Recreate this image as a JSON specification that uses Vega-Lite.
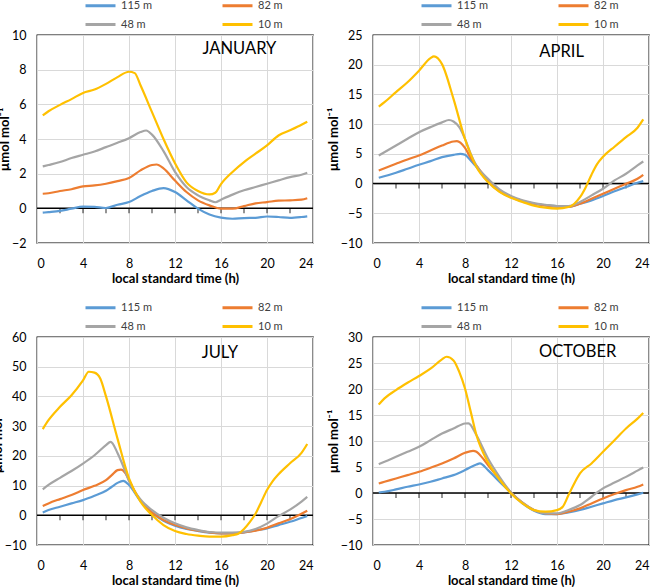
{
"$schema": "https://vega.github.io/schema/vega-lite/v6.json",
"padding": {"left": -10, "top": -2, "right": 0, "bottom": 0},
"background": "white",
"config": {
 "font": "Lato",
 "view": {"stroke": "black", "strokeWidth": 1.3},
 "axis": {"labelFont": "Lato", "labelFontSize": 12.5, "labelColor": "#000", "titleColor": "#000", "titleFont": "Lato", "titleFontSize": 13, "titleFontWeight": "bold", "ticks": false, "domain": false, "gridColor": "#d9d9d9", "gridWidth": 1},
 "axisX": {"labelPadding": 14, "titlePadding": 3},
 "axisY": {"labelPadding": 11, "titlePadding": 0},
 "legend": {"symbolType": "M-3,0H3", "symbolStrokeWidth": 3, "symbolSize": 100, "labelFontSize": 11, "labelFont": "Lato", "labelColor": "#404040", "labelOffset": 14, "columnPadding": 63, "rowPadding": 6}
},
"datasets": {
 "jan": [
  {"s":"115 m","h":0.5,"v":-0.25},{"s":"115 m","h":1,"v":-0.22},{"s":"115 m","h":2,"v":-0.15},{"s":"115 m","h":3,"v":-0.02},{"s":"115 m","h":4,"v":0.1},{"s":"115 m","h":5,"v":0.08},{"s":"115 m","h":6,"v":0.02},{"s":"115 m","h":7,"v":0.21},{"s":"115 m","h":8,"v":0.36},{"s":"115 m","h":9,"v":0.71},{"s":"115 m","h":10,"v":1.0},{"s":"115 m","h":11,"v":1.17},{"s":"115 m","h":12,"v":0.94},{"s":"115 m","h":13,"v":0.46},{"s":"115 m","h":14,"v":-0.02},{"s":"115 m","h":15,"v":-0.36},{"s":"115 m","h":16,"v":-0.54},{"s":"115 m","h":17,"v":-0.6},{"s":"115 m","h":18,"v":-0.56},{"s":"115 m","h":19,"v":-0.55},{"s":"115 m","h":20,"v":-0.47},{"s":"115 m","h":21,"v":-0.5},{"s":"115 m","h":22,"v":-0.55},{"s":"115 m","h":23,"v":-0.5},{"s":"115 m","h":23.5,"v":-0.46},
  {"s":"82 m","h":0.5,"v":0.84},{"s":"82 m","h":1,"v":0.87},{"s":"82 m","h":2,"v":1.0},{"s":"82 m","h":3,"v":1.1},{"s":"82 m","h":4,"v":1.27},{"s":"82 m","h":5,"v":1.32},{"s":"82 m","h":6,"v":1.42},{"s":"82 m","h":7,"v":1.57},{"s":"82 m","h":8,"v":1.75},{"s":"82 m","h":9,"v":2.19},{"s":"82 m","h":10,"v":2.5},{"s":"82 m","h":10.4,"v":2.53},{"s":"82 m","h":11,"v":2.3},{"s":"82 m","h":12,"v":1.6},{"s":"82 m","h":13,"v":0.94},{"s":"82 m","h":14,"v":0.46},{"s":"82 m","h":15,"v":0.17},{"s":"82 m","h":16,"v":-0.02},{"s":"82 m","h":17,"v":-0.02},{"s":"82 m","h":18,"v":0.13},{"s":"82 m","h":19,"v":0.29},{"s":"82 m","h":20,"v":0.36},{"s":"82 m","h":21,"v":0.44},{"s":"82 m","h":22,"v":0.46},{"s":"82 m","h":23,"v":0.5},{"s":"82 m","h":23.5,"v":0.58},
  {"s":"48 m","h":0.5,"v":2.42},{"s":"48 m","h":1,"v":2.5},{"s":"48 m","h":2,"v":2.67},{"s":"48 m","h":3,"v":2.9},{"s":"48 m","h":4,"v":3.09},{"s":"48 m","h":5,"v":3.28},{"s":"48 m","h":6,"v":3.53},{"s":"48 m","h":7,"v":3.78},{"s":"48 m","h":8,"v":4.05},{"s":"48 m","h":9,"v":4.4},{"s":"48 m","h":9.5,"v":4.49},{"s":"48 m","h":10,"v":4.25},{"s":"48 m","h":11,"v":3.3},{"s":"48 m","h":12,"v":2.1},{"s":"48 m","h":13,"v":1.23},{"s":"48 m","h":14,"v":0.75},{"s":"48 m","h":15,"v":0.46},{"s":"48 m","h":15.5,"v":0.35},{"s":"48 m","h":16,"v":0.5},{"s":"48 m","h":17,"v":0.79},{"s":"48 m","h":18,"v":1.04},{"s":"48 m","h":19,"v":1.23},{"s":"48 m","h":20,"v":1.42},{"s":"48 m","h":21,"v":1.61},{"s":"48 m","h":22,"v":1.8},{"s":"48 m","h":23,"v":1.94},{"s":"48 m","h":23.5,"v":2.05},
  {"s":"10 m","h":0.5,"v":5.36},{"s":"10 m","h":1,"v":5.6},{"s":"10 m","h":2,"v":5.97},{"s":"10 m","h":3,"v":6.3},{"s":"10 m","h":4,"v":6.66},{"s":"10 m","h":5,"v":6.85},{"s":"10 m","h":6,"v":7.18},{"s":"10 m","h":7,"v":7.57},{"s":"10 m","h":8,"v":7.88},{"s":"10 m","h":8.5,"v":7.8},{"s":"10 m","h":9,"v":7.1},{"s":"10 m","h":10,"v":5.55},{"s":"10 m","h":11,"v":4.0},{"s":"10 m","h":12,"v":2.6},{"s":"10 m","h":13,"v":1.5},{"s":"10 m","h":14,"v":1.0},{"s":"10 m","h":15,"v":0.8},{"s":"10 m","h":15.5,"v":0.9},{"s":"10 m","h":16,"v":1.4},{"s":"10 m","h":17,"v":2.1},{"s":"10 m","h":18,"v":2.67},{"s":"10 m","h":19,"v":3.15},{"s":"10 m","h":20,"v":3.63},{"s":"10 m","h":21,"v":4.2},{"s":"10 m","h":22,"v":4.5},{"s":"10 m","h":23,"v":4.82},{"s":"10 m","h":23.5,"v":5.0}
 ],
 "apr": [
  {"s":"115 m","h":0.5,"v":0.98},{"s":"115 m","h":2,"v":1.82},{"s":"115 m","h":3,"v":2.49},{"s":"115 m","h":4,"v":3.16},{"s":"115 m","h":5,"v":3.78},{"s":"115 m","h":6,"v":4.45},{"s":"115 m","h":7,"v":4.84},{"s":"115 m","h":7.6,"v":5.0},{"s":"115 m","h":8,"v":4.84},{"s":"115 m","h":8.5,"v":3.9},{"s":"115 m","h":9,"v":2.77},{"s":"115 m","h":10,"v":0.36},{"s":"115 m","h":11,"v":-1.3},{"s":"115 m","h":12,"v":-2.3},{"s":"115 m","h":13,"v":-3.0},{"s":"115 m","h":14,"v":-3.4},{"s":"115 m","h":15,"v":-3.67},{"s":"115 m","h":16,"v":-3.78},{"s":"115 m","h":17,"v":-3.9},{"s":"115 m","h":18,"v":-3.39},{"s":"115 m","h":19,"v":-2.83},{"s":"115 m","h":20,"v":-2.1},{"s":"115 m","h":21,"v":-1.3},{"s":"115 m","h":22,"v":-0.59},{"s":"115 m","h":23,"v":0.14},{"s":"115 m","h":23.5,"v":0.42},
  {"s":"82 m","h":0.5,"v":2.21},{"s":"82 m","h":2,"v":3.33},{"s":"82 m","h":3,"v":4.06},{"s":"82 m","h":4,"v":4.73},{"s":"82 m","h":5,"v":5.57},{"s":"82 m","h":6,"v":6.41},{"s":"82 m","h":7,"v":7.08},{"s":"82 m","h":7.3,"v":7.14},{"s":"82 m","h":8,"v":6.0},{"s":"82 m","h":8.5,"v":4.3},{"s":"82 m","h":9,"v":3.0},{"s":"82 m","h":10,"v":0.53},{"s":"82 m","h":11,"v":-1.15},{"s":"82 m","h":12,"v":-2.2},{"s":"82 m","h":13,"v":-2.9},{"s":"82 m","h":14,"v":-3.4},{"s":"82 m","h":15,"v":-3.67},{"s":"82 m","h":16,"v":-3.9},{"s":"82 m","h":17,"v":-3.9},{"s":"82 m","h":18,"v":-3.39},{"s":"82 m","h":19,"v":-2.55},{"s":"82 m","h":20,"v":-1.7},{"s":"82 m","h":21,"v":-0.87},{"s":"82 m","h":22,"v":-0.03},{"s":"82 m","h":23,"v":0.81},{"s":"82 m","h":23.5,"v":1.48},
  {"s":"48 m","h":0.5,"v":4.73},{"s":"48 m","h":2,"v":6.41},{"s":"48 m","h":3,"v":7.53},{"s":"48 m","h":4,"v":8.65},{"s":"48 m","h":5,"v":9.5},{"s":"48 m","h":6,"v":10.3},{"s":"48 m","h":6.6,"v":10.7},{"s":"48 m","h":7,"v":10.45},{"s":"48 m","h":7.5,"v":9.5},{"s":"48 m","h":8,"v":7.53},{"s":"48 m","h":8.5,"v":5.0},{"s":"48 m","h":9,"v":3.0},{"s":"48 m","h":10,"v":0.8},{"s":"48 m","h":11,"v":-0.98},{"s":"48 m","h":12,"v":-2.1},{"s":"48 m","h":13,"v":-2.83},{"s":"48 m","h":14,"v":-3.28},{"s":"48 m","h":15,"v":-3.56},{"s":"48 m","h":16,"v":-3.78},{"s":"48 m","h":17,"v":-3.78},{"s":"48 m","h":18,"v":-3.1},{"s":"48 m","h":19,"v":-1.99},{"s":"48 m","h":20,"v":-0.87},{"s":"48 m","h":21,"v":0.53},{"s":"48 m","h":22,"v":1.65},{"s":"48 m","h":23,"v":3.05},{"s":"48 m","h":23.5,"v":3.72},
  {"s":"10 m","h":0.5,"v":12.96},{"s":"10 m","h":1,"v":13.7},{"s":"10 m","h":2,"v":15.4},{"s":"10 m","h":3,"v":17.05},{"s":"10 m","h":4,"v":19.0},{"s":"10 m","h":5,"v":21.1},{"s":"10 m","h":5.3,"v":21.4},{"s":"10 m","h":6,"v":20.1},{"s":"10 m","h":7,"v":14.25},{"s":"10 m","h":8,"v":7.5},{"s":"10 m","h":9,"v":2.8},{"s":"10 m","h":10,"v":0.25},{"s":"10 m","h":11,"v":-1.4},{"s":"10 m","h":12,"v":-2.4},{"s":"10 m","h":13,"v":-3.1},{"s":"10 m","h":14,"v":-3.7},{"s":"10 m","h":15,"v":-4.06},{"s":"10 m","h":16,"v":-4.2},{"s":"10 m","h":17,"v":-3.95},{"s":"10 m","h":17.5,"v":-3.4},{"s":"10 m","h":18,"v":-2.3},{"s":"10 m","h":18.5,"v":-0.6},{"s":"10 m","h":19,"v":1.5},{"s":"10 m","h":19.5,"v":3.3},{"s":"10 m","h":20,"v":4.5},{"s":"10 m","h":21,"v":6.2},{"s":"10 m","h":22,"v":7.8},{"s":"10 m","h":23,"v":9.4},{"s":"10 m","h":23.5,"v":10.8}
 ],
 "jul": [
  {"s":"115 m","h":0.5,"v":0.97},{"s":"115 m","h":1,"v":1.76},{"s":"115 m","h":2,"v":2.88},{"s":"115 m","h":3,"v":4.0},{"s":"115 m","h":4,"v":5.1},{"s":"115 m","h":5,"v":6.57},{"s":"115 m","h":6,"v":8.25},{"s":"115 m","h":6.5,"v":9.6},{"s":"115 m","h":7,"v":10.9},{"s":"115 m","h":7.5,"v":11.6},{"s":"115 m","h":8,"v":10.2},{"s":"115 m","h":9,"v":4.8},{"s":"115 m","h":10,"v":0.86},{"s":"115 m","h":11,"v":-1.83},{"s":"115 m","h":12,"v":-3.5},{"s":"115 m","h":13,"v":-4.6},{"s":"115 m","h":14,"v":-5.3},{"s":"115 m","h":15,"v":-5.85},{"s":"115 m","h":16,"v":-6.08},{"s":"115 m","h":17,"v":-6.08},{"s":"115 m","h":18,"v":-5.74},{"s":"115 m","h":19,"v":-5.07},{"s":"115 m","h":20,"v":-4.4},{"s":"115 m","h":21,"v":-3.3},{"s":"115 m","h":22,"v":-2.2},{"s":"115 m","h":23,"v":-0.9},{"s":"115 m","h":23.5,"v":-0.26},
  {"s":"82 m","h":0.5,"v":3.1},{"s":"82 m","h":1,"v":4.0},{"s":"82 m","h":2,"v":5.45},{"s":"82 m","h":3,"v":6.8},{"s":"82 m","h":4,"v":8.5},{"s":"82 m","h":5,"v":9.93},{"s":"82 m","h":6,"v":11.8},{"s":"82 m","h":6.5,"v":13.5},{"s":"82 m","h":7,"v":15.2},{"s":"82 m","h":7.3,"v":15.4},{"s":"82 m","h":7.7,"v":14.1},{"s":"82 m","h":8,"v":11.8},{"s":"82 m","h":9,"v":4.9},{"s":"82 m","h":10,"v":0.97},{"s":"82 m","h":11,"v":-1.6},{"s":"82 m","h":12,"v":-3.28},{"s":"82 m","h":13,"v":-4.4},{"s":"82 m","h":14,"v":-5.2},{"s":"82 m","h":15,"v":-5.74},{"s":"82 m","h":16,"v":-6.08},{"s":"82 m","h":17,"v":-6.08},{"s":"82 m","h":18,"v":-5.74},{"s":"82 m","h":19,"v":-5.2},{"s":"82 m","h":20,"v":-4.2},{"s":"82 m","h":21,"v":-2.7},{"s":"82 m","h":22,"v":-1.3},{"s":"82 m","h":23,"v":0.5},{"s":"82 m","h":23.5,"v":1.53},
  {"s":"48 m","h":0.5,"v":8.7},{"s":"48 m","h":1,"v":10.2},{"s":"48 m","h":2,"v":12.6},{"s":"48 m","h":3,"v":14.9},{"s":"48 m","h":4,"v":17.4},{"s":"48 m","h":5,"v":20.2},{"s":"48 m","h":6,"v":23.6},{"s":"48 m","h":6.4,"v":24.7},{"s":"48 m","h":7,"v":21.0},{"s":"48 m","h":7.5,"v":16.5},{"s":"48 m","h":8,"v":11.5},{"s":"48 m","h":9,"v":5.3},{"s":"48 m","h":10,"v":1.76},{"s":"48 m","h":11,"v":-0.82},{"s":"48 m","h":12,"v":-2.7},{"s":"48 m","h":13,"v":-4.07},{"s":"48 m","h":14,"v":-4.96},{"s":"48 m","h":15,"v":-5.63},{"s":"48 m","h":16,"v":-5.85},{"s":"48 m","h":17,"v":-5.85},{"s":"48 m","h":18,"v":-5.6},{"s":"48 m","h":19,"v":-4.6},{"s":"48 m","h":20,"v":-2.8},{"s":"48 m","h":21,"v":-0.3},{"s":"48 m","h":22,"v":1.9},{"s":"48 m","h":23,"v":4.6},{"s":"48 m","h":23.5,"v":6.2},
  {"s":"10 m","h":0.5,"v":29.0},{"s":"10 m","h":1,"v":32.0},{"s":"10 m","h":2,"v":36.5},{"s":"10 m","h":3,"v":40.4},{"s":"10 m","h":4,"v":45.4},{"s":"10 m","h":4.5,"v":48.3},{"s":"10 m","h":5,"v":48.0},{"s":"10 m","h":5.5,"v":46.0},{"s":"10 m","h":6,"v":40.0},{"s":"10 m","h":7,"v":25.8},{"s":"10 m","h":8,"v":12.4},{"s":"10 m","h":9,"v":4.56},{"s":"10 m","h":10,"v":0.08},{"s":"10 m","h":11,"v":-3.28},{"s":"10 m","h":12,"v":-5.3},{"s":"10 m","h":13,"v":-6.3},{"s":"10 m","h":14,"v":-6.86},{"s":"10 m","h":15,"v":-7.2},{"s":"10 m","h":16,"v":-7.2},{"s":"10 m","h":17,"v":-6.7},{"s":"10 m","h":17.5,"v":-6.2},{"s":"10 m","h":18,"v":-4.6},{"s":"10 m","h":18.5,"v":-2.3},{"s":"10 m","h":19,"v":0.5},{"s":"10 m","h":19.5,"v":4.5},{"s":"10 m","h":20,"v":8.5},{"s":"10 m","h":20.5,"v":11.5},{"s":"10 m","h":21,"v":13.8},{"s":"10 m","h":22,"v":17.5},{"s":"10 m","h":23,"v":21.0},{"s":"10 m","h":23.5,"v":24.0}
 ],
 "oct": [
  {"s":"115 m","h":0.5,"v":0.1},{"s":"115 m","h":1,"v":0.24},{"s":"115 m","h":2,"v":0.69},{"s":"115 m","h":3,"v":1.2},{"s":"115 m","h":4,"v":1.64},{"s":"115 m","h":5,"v":2.16},{"s":"115 m","h":6,"v":2.8},{"s":"115 m","h":7,"v":3.44},{"s":"115 m","h":8,"v":4.4},{"s":"115 m","h":9,"v":5.49},{"s":"115 m","h":9.3,"v":5.68},{"s":"115 m","h":10,"v":4.4},{"s":"115 m","h":11,"v":2.16},{"s":"115 m","h":12,"v":0.05},{"s":"115 m","h":13,"v":-2.0},{"s":"115 m","h":14,"v":-3.4},{"s":"115 m","h":15,"v":-4.05},{"s":"115 m","h":16,"v":-4.05},{"s":"115 m","h":17,"v":-3.73},{"s":"115 m","h":18,"v":-3.28},{"s":"115 m","h":19,"v":-2.64},{"s":"115 m","h":20,"v":-2.0},{"s":"115 m","h":21,"v":-1.36},{"s":"115 m","h":22,"v":-0.85},{"s":"115 m","h":23,"v":-0.27},{"s":"115 m","h":23.5,"v":0.05},
  {"s":"82 m","h":0.5,"v":1.84},{"s":"82 m","h":1,"v":2.16},{"s":"82 m","h":2,"v":2.8},{"s":"82 m","h":3,"v":3.44},{"s":"82 m","h":4,"v":4.08},{"s":"82 m","h":5,"v":4.85},{"s":"82 m","h":6,"v":5.68},{"s":"82 m","h":7,"v":6.64},{"s":"82 m","h":8,"v":7.73},{"s":"82 m","h":8.7,"v":8.1},{"s":"82 m","h":9,"v":7.92},{"s":"82 m","h":9.5,"v":6.8},{"s":"82 m","h":10,"v":5.36},{"s":"82 m","h":11,"v":2.67},{"s":"82 m","h":12,"v":0.1},{"s":"82 m","h":13,"v":-1.87},{"s":"82 m","h":14,"v":-3.28},{"s":"82 m","h":15,"v":-3.92},{"s":"82 m","h":16,"v":-4.05},{"s":"82 m","h":17,"v":-3.6},{"s":"82 m","h":18,"v":-2.96},{"s":"82 m","h":19,"v":-2.0},{"s":"82 m","h":20,"v":-1.04},{"s":"82 m","h":21,"v":-0.2},{"s":"82 m","h":22,"v":0.56},{"s":"82 m","h":23,"v":1.2},{"s":"82 m","h":23.5,"v":1.65},
  {"s":"48 m","h":0.5,"v":5.55},{"s":"48 m","h":1,"v":6.0},{"s":"48 m","h":2,"v":6.96},{"s":"48 m","h":3,"v":7.92},{"s":"48 m","h":4,"v":8.88},{"s":"48 m","h":5,"v":10.16},{"s":"48 m","h":6,"v":11.44},{"s":"48 m","h":7,"v":12.4},{"s":"48 m","h":8,"v":13.36},{"s":"48 m","h":8.3,"v":13.4},{"s":"48 m","h":9,"v":11.1},{"s":"48 m","h":10,"v":6.64},{"s":"48 m","h":11,"v":3.12},{"s":"48 m","h":12,"v":0.1},{"s":"48 m","h":13,"v":-1.87},{"s":"48 m","h":14,"v":-3.28},{"s":"48 m","h":15,"v":-3.92},{"s":"48 m","h":16,"v":-3.92},{"s":"48 m","h":17,"v":-3.28},{"s":"48 m","h":18,"v":-2.32},{"s":"48 m","h":19,"v":-0.72},{"s":"48 m","h":20,"v":0.9},{"s":"48 m","h":21,"v":2.0},{"s":"48 m","h":22,"v":3.1},{"s":"48 m","h":23,"v":4.3},{"s":"48 m","h":23.5,"v":4.9},
  {"s":"10 m","h":0.5,"v":17.0},{"s":"10 m","h":1,"v":18.2},{"s":"10 m","h":2,"v":19.8},{"s":"10 m","h":3,"v":21.2},{"s":"10 m","h":4,"v":22.5},{"s":"10 m","h":5,"v":23.9},{"s":"10 m","h":6,"v":25.7},{"s":"10 m","h":6.4,"v":26.2},{"s":"10 m","h":7,"v":25.5},{"s":"10 m","h":7.5,"v":23.3},{"s":"10 m","h":8,"v":20.1},{"s":"10 m","h":8.5,"v":15.6},{"s":"10 m","h":9,"v":11.1},{"s":"10 m","h":10,"v":5.9},{"s":"10 m","h":11,"v":2.6},{"s":"10 m","h":12,"v":-0.08},{"s":"10 m","h":13,"v":-2.0},{"s":"10 m","h":14,"v":-3.3},{"s":"10 m","h":15,"v":-3.6},{"s":"10 m","h":16,"v":-3.3},{"s":"10 m","h":16.5,"v":-2.64},{"s":"10 m","h":17,"v":-0.4},{"s":"10 m","h":17.5,"v":1.84},{"s":"10 m","h":18,"v":3.76},{"s":"10 m","h":19,"v":5.68},{"s":"10 m","h":20,"v":7.92},{"s":"10 m","h":21,"v":10.16},{"s":"10 m","h":22,"v":12.4},{"s":"10 m","h":23,"v":14.3},{"s":"10 m","h":23.5,"v":15.4}
 ]
},
"columns": 2,
"bounds": "flush",
"spacing": {"row": 94, "column": 60},
"resolve": {"scale": {"color": "independent", "x": "independent", "y": "independent"}, "legend": {"color": "independent"}},
"concat": [
 {
  "width": 276, "height": 208,
  "encoding": {
   "x": {"field": "h", "type": "quantitative", "scale": {"domain": [0, 24], "nice": false}, "axis": {"values": [0,4,8,12,16,20,24], "title": "local standard time (h)"}},
   "y": {"field": "v", "type": "quantitative", "scale": {"domain": [-2, 10], "nice": false}, "axis": {"values": [-2,0,2,4,6,8,10], "title": "µmol mol⁻¹"}}
  },
  "layer": [
   {"data": {"values": [{"h": 0, "h2": 24, "v": 0}]}, "mark": {"type": "rule", "color": "black", "strokeWidth": 1.5}, "encoding": {"x2": {"field": "h2"}}},
   {"data": {"values": [{"h":2,"v":0},{"h":4,"v":0},{"h":6,"v":0},{"h":8,"v":0},{"h":10,"v":0},{"h":12,"v":0},{"h":14,"v":0},{"h":16,"v":0},{"h":18,"v":0},{"h":20,"v":0},{"h":22,"v":0}]}, "mark": {"type": "tick", "orient": "vertical", "size": 5, "thickness": 1.2, "yOffset": 2.5, "color": "black"}},
   {"data": {"name": "jan"}, "mark": {"type": "line", "interpolate": "monotone", "strokeWidth": 2.2}, "encoding": {"color": {"field": "s", "type": "nominal", "scale": {"domain": ["115 m","82 m","48 m","10 m"], "range": ["#5b9bd5","#ed7d31","#a5a5a5","#ffc000"]}, "legend": {"orient": "none", "legendX": 57, "legendY": -36, "direction": "horizontal", "columns": 2, "title": null}}}},
   {"data": {"values": [{"h": 17.6, "v": 9.2, "label": "JANUARY"}]}, "mark": {"type": "text", "fontSize": 16.5, "font": "Lato", "align": "center", "baseline": "middle", "color": "black"}, "encoding": {"text": {"field": "label"}}}
  ]
 },
 {
  "width": 276, "height": 208,
  "encoding": {
   "x": {"field": "h", "type": "quantitative", "scale": {"domain": [0, 24], "nice": false}, "axis": {"values": [0,4,8,12,16,20,24], "title": "local standard time (h)"}},
   "y": {"field": "v", "type": "quantitative", "scale": {"domain": [-10, 25], "nice": false}, "axis": {"values": [-10,-5,0,5,10,15,20,25], "title": "µmol mol⁻¹"}}
  },
  "layer": [
   {"data": {"values": [{"h": 0, "h2": 24, "v": 0}]}, "mark": {"type": "rule", "color": "black", "strokeWidth": 1.5}, "encoding": {"x2": {"field": "h2"}}},
   {"data": {"values": [{"h":2,"v":0},{"h":4,"v":0},{"h":6,"v":0},{"h":8,"v":0},{"h":10,"v":0},{"h":12,"v":0},{"h":14,"v":0},{"h":16,"v":0},{"h":18,"v":0},{"h":20,"v":0},{"h":22,"v":0}]}, "mark": {"type": "tick", "orient": "vertical", "size": 5, "thickness": 1.2, "yOffset": 2.5, "color": "black"}},
   {"data": {"name": "apr"}, "mark": {"type": "line", "interpolate": "monotone", "strokeWidth": 2.2}, "encoding": {"color": {"field": "s", "type": "nominal", "scale": {"domain": ["115 m","82 m","48 m","10 m"], "range": ["#5b9bd5","#ed7d31","#a5a5a5","#ffc000"]}, "legend": {"orient": "none", "legendX": 57, "legendY": -36, "direction": "horizontal", "columns": 2, "title": null}}}},
   {"data": {"values": [{"h": 16.4, "v": 22.1, "label": "APRIL"}]}, "mark": {"type": "text", "fontSize": 16.5, "font": "Lato", "align": "center", "baseline": "middle", "color": "black"}, "encoding": {"text": {"field": "label"}}}
  ]
 },
 {
  "width": 276, "height": 208,
  "encoding": {
   "x": {"field": "h", "type": "quantitative", "scale": {"domain": [0, 24], "nice": false}, "axis": {"values": [0,4,8,12,16,20,24], "title": "local standard time (h)"}},
   "y": {"field": "v", "type": "quantitative", "scale": {"domain": [-10, 60], "nice": false}, "axis": {"values": [-10,0,10,20,30,40,50,60], "title": "µmol mol⁻¹"}}
  },
  "layer": [
   {"data": {"values": [{"h": 0, "h2": 24, "v": 0}]}, "mark": {"type": "rule", "color": "black", "strokeWidth": 1.5}, "encoding": {"x2": {"field": "h2"}}},
   {"data": {"values": [{"h":2,"v":0},{"h":4,"v":0},{"h":6,"v":0},{"h":8,"v":0},{"h":10,"v":0},{"h":12,"v":0},{"h":14,"v":0},{"h":16,"v":0},{"h":18,"v":0},{"h":20,"v":0},{"h":22,"v":0}]}, "mark": {"type": "tick", "orient": "vertical", "size": 5, "thickness": 1.2, "yOffset": 2.5, "color": "black"}},
   {"data": {"name": "jul"}, "mark": {"type": "line", "interpolate": "monotone", "strokeWidth": 2.2}, "encoding": {"color": {"field": "s", "type": "nominal", "scale": {"domain": ["115 m","82 m","48 m","10 m"], "range": ["#5b9bd5","#ed7d31","#a5a5a5","#ffc000"]}, "legend": {"orient": "none", "legendX": 57, "legendY": -36, "direction": "horizontal", "columns": 2, "title": null}}}},
   {"data": {"values": [{"h": 15.9, "v": 54.6, "label": "JULY"}]}, "mark": {"type": "text", "fontSize": 16.5, "font": "Lato", "align": "center", "baseline": "middle", "color": "black"}, "encoding": {"text": {"field": "label"}}}
  ]
 },
 {
  "width": 276, "height": 208,
  "encoding": {
   "x": {"field": "h", "type": "quantitative", "scale": {"domain": [0, 24], "nice": false}, "axis": {"values": [0,4,8,12,16,20,24], "title": "local standard time (h)"}},
   "y": {"field": "v", "type": "quantitative", "scale": {"domain": [-10, 30], "nice": false}, "axis": {"values": [-10,-5,0,5,10,15,20,25,30], "title": "µmol mol⁻¹"}}
  },
  "layer": [
   {"data": {"values": [{"h": 0, "h2": 24, "v": 0}]}, "mark": {"type": "rule", "color": "black", "strokeWidth": 1.5}, "encoding": {"x2": {"field": "h2"}}},
   {"data": {"values": [{"h":2,"v":0},{"h":4,"v":0},{"h":6,"v":0},{"h":8,"v":0},{"h":10,"v":0},{"h":12,"v":0},{"h":14,"v":0},{"h":16,"v":0},{"h":18,"v":0},{"h":20,"v":0},{"h":22,"v":0}]}, "mark": {"type": "tick", "orient": "vertical", "size": 5, "thickness": 1.2, "yOffset": 2.5, "color": "black"}},
   {"data": {"name": "oct"}, "mark": {"type": "line", "interpolate": "monotone", "strokeWidth": 2.2}, "encoding": {"color": {"field": "s", "type": "nominal", "scale": {"domain": ["115 m","82 m","48 m","10 m"], "range": ["#5b9bd5","#ed7d31","#a5a5a5","#ffc000"]}, "legend": {"orient": "none", "legendX": 57, "legendY": -36, "direction": "horizontal", "columns": 2, "title": null}}}},
   {"data": {"values": [{"h": 17.8, "v": 27.1, "label": "OCTOBER"}]}, "mark": {"type": "text", "fontSize": 16.5, "font": "Lato", "align": "center", "baseline": "middle", "color": "black"}, "encoding": {"text": {"field": "label"}}}
  ]
 }
]
}
